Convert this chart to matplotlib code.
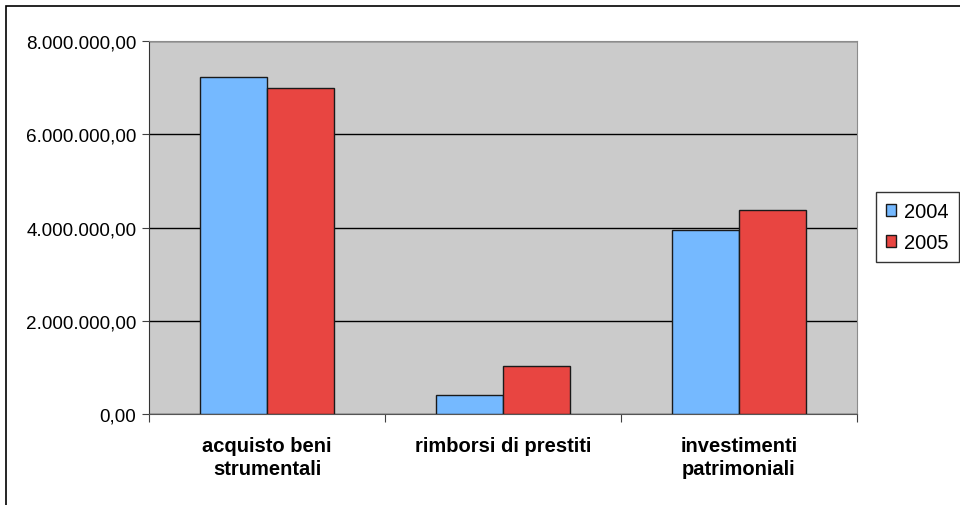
import numpy as np
import matplotlib.pyplot as plt
from matplotlib.patches import Rectangle
from matplotlib.ticker import FuncFormatter

plt.rcParams['font.family'] = ['Liberation Sans', 'DejaVu Sans']

# Data
categories = ['acquisto beni\nstrumentali', 'rimborsi di prestiti', 'investimenti\npatrimoniali']
years = ['2004', '2005']
v2004 = [7230000, 410000, 3950000]
v2005 = [7000000, 1030000, 4380000]
colors = ['#75B9FF', '#E84541']

def it_fmt(v, pos):
    s = f'{v:,.2f}'
    return s.replace(',', 'X').replace('.', ',').replace('X', '.')

fig = plt.figure(figsize=(9.6, 5.06), dpi=100)
fig.patch.set_facecolor('white')

# outer chart border (left and top visible)
fig.add_artist(Rectangle((6 / 960, -0.1), 1.2, 1 - 7 / 506 + 0.1, transform=fig.transFigure,
                         fill=False, edgecolor='black', linewidth=1.2))

ax = fig.add_axes([149 / 960, 1 - 415 / 506, (857 - 149) / 960, (415 - 42) / 506])
ax.set_facecolor('#CBCBCB')

x = np.arange(len(categories))
w = 1 / 3.5
ax.bar(x - w / 2, v2004, w, color=colors[0], edgecolor='#1a1a1a', linewidth=1, label=years[0], zorder=3)
ax.bar(x + w / 2, v2005, w, color=colors[1], edgecolor='#1a1a1a', linewidth=1, label=years[1], zorder=3)

ax.set_xlim(-0.5, 2.5)
ax.set_ylim(0, 8000000)
ax.set_yticks(np.arange(0, 8000001, 2000000))
ax.yaxis.set_major_formatter(FuncFormatter(it_fmt))
ax.yaxis.grid(True, color='black', linewidth=1, zorder=1)
ax.set_axisbelow(True)

ax.set_xticks([-0.5, 0.5, 1.5, 2.5])
ax.set_xticklabels([])
ax.set_xticks(x, minor=True)
ax.set_xticklabels(categories, minor=True, fontsize=14.5, fontweight='bold', linespacing=1.25)
ax.tick_params(axis='x', which='minor', length=0, pad=16)
ax.tick_params(axis='x', which='major', length=6, color='#404040')
ax.tick_params(axis='y', length=5, color='#404040', labelsize=13.6, pad=4)

for s in ['top', 'right']:
    ax.spines[s].set_color('#8c8c8c')
ax.spines['left'].set_color('#333333')
ax.spines['bottom'].set_color('#555555')

leg = fig.legend(loc='center left', bbox_to_anchor=(876 / 960, 1 - 228 / 506),
                 fontsize=14.5, frameon=True, fancybox=False, edgecolor='black',
                 handlelength=0.5, handleheight=0.5, handletextpad=0.4,
                 borderpad=0.5, labelspacing=0.6, borderaxespad=0)
leg.get_frame().set_linewidth(1)

fig.savefig('out.png', dpi=100)
